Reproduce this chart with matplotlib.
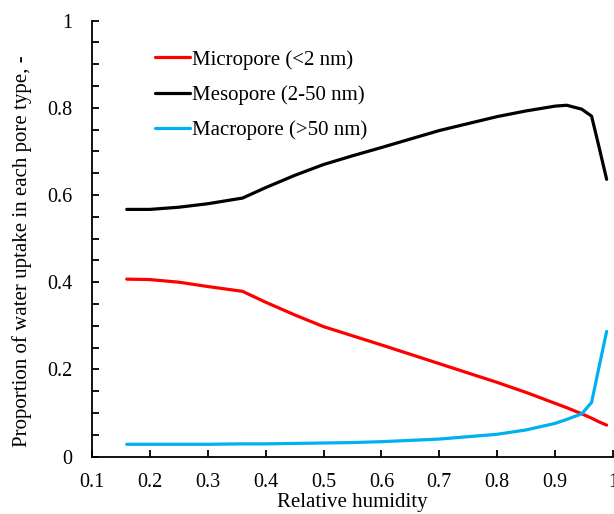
import matplotlib
matplotlib.use("Agg")
import matplotlib.pyplot as plt
from matplotlib.ticker import MultipleLocator

plt.rcParams['font.family'] = ['Liberation Serif', 'DejaVu Serif']

# Relative humidity sampling points
rh = [0.16, 0.20, 0.25, 0.30, 0.36, 0.40, 0.45, 0.50, 0.55, 0.60,
      0.70, 0.80, 0.85, 0.90, 0.92, 0.946, 0.963, 0.975, 0.989]

# Proportion of water uptake per pore class
micropore = [0.407, 0.406, 0.400, 0.390, 0.379, 0.354, 0.325, 0.298, 0.277, 0.256,
             0.213, 0.170, 0.147, 0.122, 0.112, 0.098, 0.088, 0.080, 0.072]
mesopore = [0.567, 0.567, 0.572, 0.580, 0.593, 0.617, 0.645, 0.670, 0.690, 0.709,
            0.748, 0.780, 0.793, 0.804, 0.806, 0.797, 0.781, 0.715, 0.636]
macropore = [0.028, 0.028, 0.028, 0.028, 0.029, 0.029, 0.030, 0.031, 0.032, 0.034,
             0.040, 0.051, 0.061, 0.076, 0.085, 0.098, 0.124, 0.200, 0.287]

labels = ["Micropore (<2 nm)", "Mesopore (2-50 nm)", "Macropore (>50 nm)"]
colors = ["#FF0000", "#000000", "#00B0F0"]

fig = plt.figure(figsize=(6.14, 5.14), dpi=100)
ax = fig.add_axes([92 / 614, 1 - 456.5 / 514, 521 / 614, 435.8 / 514])

for series, lab, col in zip([micropore, mesopore, macropore], labels, colors):
    ax.plot(rh, series, color=col, lw=2.3, label=lab, solid_capstyle='round')

ax.set_xlim(0.1, 1.0)
ax.set_ylim(0, 1.0)
ax.xaxis.set_major_locator(MultipleLocator(0.1))
ax.yaxis.set_major_locator(MultipleLocator(0.2))
ax.yaxis.set_minor_locator(MultipleLocator(0.05))
ax.xaxis.set_major_formatter(plt.FuncFormatter(lambda v, p: "1" if abs(v - 1) < 1e-9 else f"{v:.1f}"))
ax.yaxis.set_major_formatter(plt.FuncFormatter(lambda v, p: "0" if abs(v) < 1e-9 else ("1" if abs(v - 1) < 1e-9 else f"{v:.1f}")))

for s in ['top', 'right']:
    ax.spines[s].set_visible(False)
for s in ['left', 'bottom']:
    ax.spines[s].set_linewidth(1.3)

ax.tick_params(axis='x', which='major', direction='in', length=5, width=1.3, labelsize=14.5, pad=12)
ax.tick_params(axis='y', which='both', direction='in', length=5, width=1.3, labelsize=14.5, pad=14)

fig.text(352 / 614, 1 - 503 / 514, "Relative humidity", fontsize=15,
         ha='center', va='center')
fig.text(22 / 614, 1 - 251 / 514, "Proportion of water uptake in each pore type, -",
         fontsize=15, rotation=90, ha='center', va='center')

leg = ax.legend(loc='upper left', bbox_to_anchor=(155 / 614, 1 - 50 / 514),
                bbox_transform=fig.transFigure, frameon=False, fontsize=15,
                handlelength=1.68, handletextpad=0.1, labelspacing=0.74,
                borderaxespad=0, borderpad=0)

fig.savefig("out.png", dpi=100)
